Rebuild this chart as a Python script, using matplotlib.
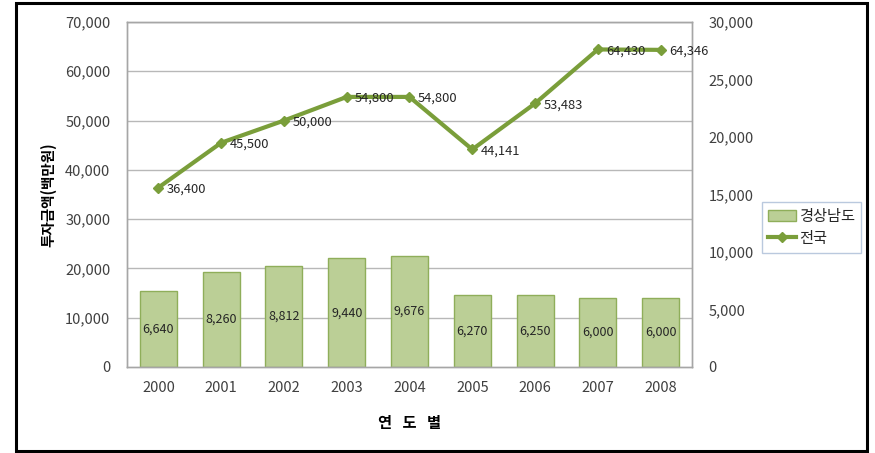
import matplotlib
matplotlib.use("Agg")
import matplotlib.pyplot as plt
from matplotlib.patches import Rectangle
from matplotlib.lines import Line2D
from matplotlib.patches import Patch

plt.rcParams['font.family'] = ['Noto Sans CJK KR', 'DejaVu Sans']

years = ["2000", "2001", "2002", "2003", "2004", "2005", "2006", "2007", "2008"]
gyeongnam = [6640, 8260, 8812, 9440, 9676, 6270, 6250, 6000, 6000]
national = [36400, 45500, 50000, 54800, 54800, 44141, 53483, 64430, 64346]
left_ticks = [0, 10000, 20000, 30000, 40000, 50000, 60000, 70000]
right_ticks = [0, 5000, 10000, 15000, 20000, 25000, 30000]

W, H = 875, 453
fig = plt.figure(figsize=(W / 100, H / 100), dpi=100)

# outer frame
fig.patches.append(Rectangle((16 / W, 1 - 451 / H), (867 - 16) / W, (451 - 3) / H,
                             transform=fig.transFigure, fill=False,
                             edgecolor="black", linewidth=2.2))

ax = fig.add_axes([127 / W, 1 - 367 / H, (692 - 127) / W, (367 - 22) / H])
ax2 = ax.twinx()

bg = "#EFF1EA"
grid_color = "#B8B8B8"
x = list(range(len(years)))

# left axis: national line
ax.set_ylim(0, 70000)
ax.set_yticks(left_ticks)
ax.set_yticklabels([f"{v:,}" for v in left_ticks])
ax.set_xlim(-0.5, len(years) - 0.5)
ax.set_xticks(x)
ax.set_xticklabels(years)

# right axis: Gyeongnam bars
ax2.set_ylim(0, 30000)
ax2.set_yticks(right_ticks)
ax2.set_yticklabels([f"{v:,}" for v in right_ticks])

# bars sit behind the line axis
ax2.set_zorder(1)
ax.set_zorder(2)
ax.patch.set_visible(False)
ax2.patch.set_facecolor(bg)
for t in left_ticks[1:]:
    ax2.axhline(t * 30000 / 70000, color=grid_color, linewidth=1.0, zorder=0.5)

ax2.bar(x, gyeongnam, width=0.59, color="#BBCF96", edgecolor="#8FAE5A",
        linewidth=1.0, zorder=2)
for xi, v in zip(x, gyeongnam):
    ax2.text(xi, v / 2, f"{v:,}", ha="center", va="center", fontsize=9,
             color="#262626", zorder=5)

line_color = "#7A9E3A"
ax.plot(x, national, color=line_color, linewidth=3.0, marker="D", markersize=5.5,
        markerfacecolor=line_color, markeredgecolor=line_color, zorder=4)
for xi, v in zip(x, national):
    ax.annotate(f"{v:,}", (xi, v), xytext=(6, -1), textcoords="offset points",
                ha="left", va="center", fontsize=9.3, color="#262626", zorder=5)

for a in (ax, ax2):
    for s in a.spines.values():
        s.set_color("#A6A6A6")
        s.set_linewidth(1.0)
    a.tick_params(length=0, labelsize=10.5, colors="#404040")
ax.tick_params(axis="y", pad=12)
ax2.tick_params(axis="y", pad=12)
ax.tick_params(axis="x", pad=10)

ax.set_ylabel("투자금액(백만원)", fontsize=10.5, fontweight="bold", color="black",
              labelpad=6)
fig.text(410 / W, 1 - 423 / H, "연   도   별", ha="center", va="center",
         fontsize=11, fontweight="bold", color="black")

handles = [Patch(facecolor="#BBCF96", edgecolor="#8FAE5A", label="경상남도"),
           Line2D([0], [0], color=line_color, linewidth=3.0, marker="D",
                  markersize=5, label="전국")]
leg = fig.legend(handles=handles, loc="upper left",
                 bbox_to_anchor=(762 / W, 1 - 202 / H), fontsize=11,
                 frameon=True, fancybox=False, handlelength=1.8,
                 handletextpad=0.2, borderpad=0.4, labelspacing=0.3,
                 borderaxespad=0)
leg.get_frame().set_edgecolor("#A9BCD6")
leg.get_frame().set_linewidth(1.0)
for t in leg.get_texts():
    t.set_color("#262626")

fig.savefig("out.png", dpi=100)
